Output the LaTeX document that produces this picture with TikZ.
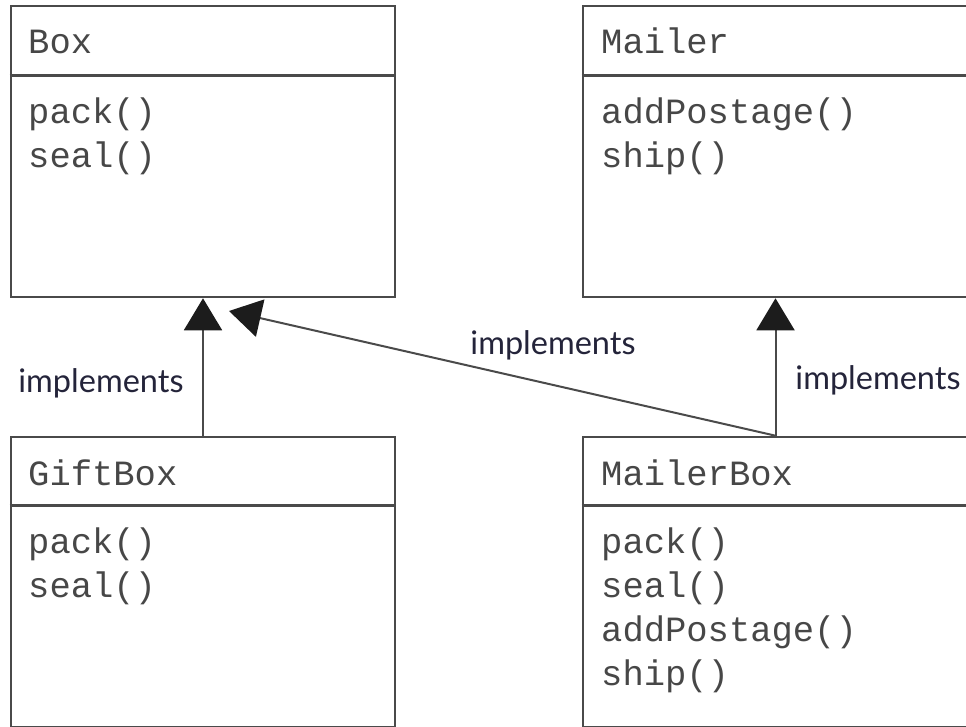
\documentclass[tikz,border=0pt]{standalone}
\usepackage{fontspec}
\setmainfont{Lato}
\newfontfamily\codefont{Liberation Mono}
\usetikzlibrary{arrows.meta}
\definecolor{linegray}{HTML}{4A4A4A}
\definecolor{codegray}{HTML}{474747}
\definecolor{labelblue}{HTML}{24243A}
\definecolor{headblack}{HTML}{1C1C1C}
\tikzset{
  classbox/.style={draw=linegray, line width=2.6pt, rectangle, inner sep=0pt},
  divider/.style={draw=linegray, line width=2.6pt},
  code/.style={anchor=base west, inner sep=0pt, text=codegray,
    font=\codefont\fontsize{35.5}{40}\selectfont},
  impl/.style={draw=linegray, line width=2pt,
    -{Triangle[width=38pt,length=32pt,color=headblack]}},
  impllabel/.style={inner sep=0pt, text=labelblue,
    font=\fontsize{32.5}{38}\selectfont}
}
\begin{document}
\begin{tikzpicture}[x=1pt,y=-1pt]
  \useasboundingbox (0,0) rectangle (966,727);
  \clip (0,0) rectangle (966,727);

  % class boxes
  \node[classbox, minimum width=384pt, minimum height=291pt] (box) at (203,151.5) {};
  \node[classbox, minimum width=385pt, minimum height=291pt] (mailer) at (775.5,151.5) {};
  \node[classbox, minimum width=384pt, minimum height=290pt] (giftbox) at (203,582) {};
  \node[classbox, minimum width=385pt, minimum height=290pt] (mailerbox) at (775.5,582) {};

  % header dividers
  \draw[divider] ([yshift=-71pt]box.north west) -- ([yshift=-71pt]box.north east);
  \draw[divider] ([yshift=-71pt]mailer.north west) -- ([yshift=-71pt]mailer.north east);
  \draw[divider] ([yshift=-70pt]giftbox.north west) -- ([yshift=-70pt]giftbox.north east);
  \draw[divider] ([yshift=-70pt]mailerbox.north west) -- ([yshift=-70pt]mailerbox.north east);

  % Box
  \node[code] (boxname) at (28,54) {Box};
  \node[code] (boxm1) at (28,124) {pack()};
  \node[code] (boxm2) at (28,168) {seal()};

  % Mailer
  \node[code] (mailername) at (601,54) {Mailer};
  \node[code] (mailerm1) at (601,124) {addPostage()};
  \node[code] (mailerm2) at (601,168) {ship()};

  % GiftBox
  \node[code] (giftname) at (28,485) {GiftBox};
  \node[code] (giftm1) at (28,553) {pack()};
  \node[code] (giftm2) at (28,597) {seal()};

  % MailerBox
  \node[code] (mbname) at (601,485) {MailerBox};
  \node[code] (mbm1) at (601,553) {pack()};
  \node[code] (mbm2) at (601,597) {seal()};
  \node[code] (mbm3) at (601,641) {addPostage()};
  \node[code] (mbm4) at (601,685) {ship()};

  % realisation arrows
  \coordinate (diagtip) at (229,311);
  \draw[impl] (giftbox.north) -- (box.south);
  \draw[impl] (mailerbox.north) -- (mailer.south);
  \draw[impl] (mailerbox.north) -- (diagtip);

  % labels
  \node[impllabel] (lblleft) at (101,383) {implements};
  \node[impllabel] (lblmid) at (553,345) {implements};
  \node[impllabel] (lblright) at (878,380) {implements};
\end{tikzpicture}
\end{document}
